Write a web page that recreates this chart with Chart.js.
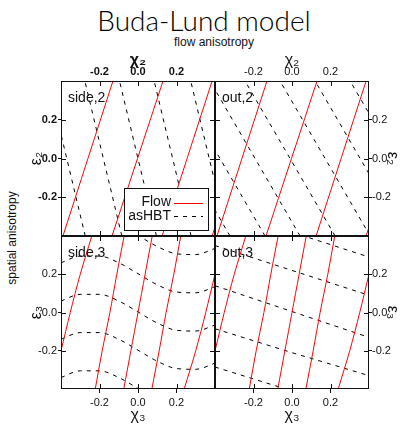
<!DOCTYPE html>
<html>
<head>
<meta charset="utf-8">
<script src="https://cdn.jsdelivr.net/npm/chart.js@4.4.0/dist/chart.umd.min.js"></script>
<style>
  body { margin: 0; background: #fff; }
  #fig { position: relative; width: 402px; height: 425px; overflow: hidden;
         font-family: "Liberation Sans", Arial, sans-serif; color: #111; }
  #fig canvas { position: absolute; left: 0; top: 0; }
  .txt { position: absolute; white-space: nowrap; line-height: 1; }
  #title { left: 204px; top: 3px; transform: translateX(-50%); font: 300 28px Lato, "Liberation Sans", sans-serif; color: #000; }
  #sub { left: 214px; top: 36px; transform: translateX(-50%); font-size: 12px; }
  #side { left: 12px; top: 238px; transform: translate(-50%, -50%) rotate(-90deg); font-size: 12px; }
</style>
</head>
<body>
<div id="fig">
  <div class="txt" id="title">Buda-Lund model</div>
  <div class="txt" id="sub">flow anisotropy</div>
  <div class="txt" id="side">spatial anisotropy</div>
  <canvas id="sideTwo" width="402" height="425"></canvas>
  <canvas id="outTwo" width="402" height="425"></canvas>
  <canvas id="sideThree" width="402" height="425"></canvas>
  <canvas id="outThree" width="402" height="425"></canvas>
</div>
<script>
const chiTicks = [-0.2, 0, 0.2];
const epsTicks = [-0.2, 0, 0.2];

// second harmonic: straight iso-lines, chi2 read at eps2 = -0.4 and +0.4
const eps2Ends = [-0.4, 0.4];
const flow2Chi = [
  [-0.39, -0.13],
  [-0.135, 0.13],
  [0.125, 0.385],
  [0.385, 0.645],
];
const side2Chi = [
  [-0.274, -0.466],
  [-0.084, -0.276],
  [0.096, -0.096],
  [0.276, 0.084],
  [0.466, 0.274],
];
const out2Chi = [
  [-0.322, -0.79],
  [-0.14, -0.608],
  [0.042, -0.426],
  [0.224, -0.244],
  [0.406, -0.062],
  [0.588, 0.12],
  [0.77, 0.302],
];

// third harmonic: flow lines (chi3 at each eps3 row)
const eps3Rows = [-0.4, -0.2, 0, 0.2, 0.4];
const flow3Chi = [
  [-0.452, -0.4, -0.352, -0.3, -0.24],
  [-0.222, -0.186, -0.146, -0.11, -0.072],
  [-0.074, -0.037, 0, 0.037, 0.074],
  [0.072, 0.11, 0.146, 0.186, 0.222],
  [0.24, 0.3, 0.352, 0.4, 0.452],
];
// asHBT side: wavy curves, eps3 at each chi3 column
const chi3Cols = [-0.4, -0.3, -0.2, -0.1, 0, 0.1, 0.2, 0.3, 0.4];
const side3Eps = [
  [0.46, 0.495, 0.495, 0.46, 0.403, 0.345, 0.307, 0.303, 0.335],
  [0.26, 0.295, 0.295, 0.26, 0.203, 0.145, 0.107, 0.103, 0.135],
  [0.06, 0.095, 0.095, 0.06, 0.003, -0.055, -0.093, -0.097, -0.065],
  [-0.14, -0.105, -0.105, -0.14, -0.197, -0.255, -0.293, -0.297, -0.265],
  [-0.34, -0.305, -0.305, -0.34, -0.397, -0.455, -0.493, -0.497, -0.465],
];
// asHBT out: gently falling lines
const chi3Ends = [-0.4, 0, 0.4];
const out3Eps = [
  [0.55, 0.42, 0.29],
  [0.35, 0.22, 0.09],
  [0.14, 0.005, -0.13],
  [-0.085, -0.21, -0.33],
  [-0.285, -0.41, -0.54],
];

const W = 402, H = 425;
const INK = '#111';
const FONT = '"Liberation Sans", Arial, sans-serif';
Chart.defaults.font.family = FONT;

const flowStyle = { borderColor: '#ff0000', borderWidth: 1, pointRadius: 0, fill: false, clip: 0, tension: 0.3 };
const hbtStyle = { borderColor: '#000', borderWidth: 1, borderDash: [4, 5], pointRadius: 0, fill: false, clip: 0 };

const alongEps = (rows, eps, style, label) =>
  rows.map((row, k) => ({ ...style, label: k === 0 ? label : undefined, data: row.map((x, i) => ({ x, y: eps[i] })) }));
const alongChi = (rows, chi, style, label) =>
  rows.map((row, k) => ({ ...style, label: k === 0 ? label : undefined, data: row.map((y, i) => ({ x: chi[i], y })) }));

const fmt = v => (Math.abs(v) < 1e-9 ? '0.0' : v.toFixed(1));

const drawLegend = (ctx, a, datasets) => {
  const bx = a.right - 91, by = a.bottom - 48, bw = 85, bh = 43;
  ctx.fillStyle = '#fff';
  ctx.fillRect(bx, by, bw, bh);
  ctx.strokeStyle = INK;
  ctx.lineWidth = 1;
  ctx.strokeRect(bx + 0.5, by + 0.5, bw - 1, bh - 1);
  datasets.filter(d => d.label).forEach((d, i) => {
    const cy = by + 14.5 + i * 13.5;
    ctx.fillStyle = INK;
    ctx.font = `14px ${FONT}`;
    ctx.textAlign = 'right';
    ctx.textBaseline = 'middle';
    ctx.fillText(d.label, bx + 47, cy);
    ctx.strokeStyle = d.borderColor;
    ctx.setLineDash(d.borderDash || []);
    ctx.beginPath();
    ctx.moveTo(bx + 50, Math.round(cy) + 0.5);
    ctx.lineTo(bx + 79, Math.round(cy) + 0.5);
    ctx.stroke();
    ctx.setLineDash([]);
  });
};

// frame, inner tick marks, panel name and optional legend
const panelDecor = {
  id: 'panelDecor',
  afterDatasetsDraw(chart, args, opts) {
    const { ctx, chartArea: a, scales: { x, y } } = chart;
    ctx.save();
    ctx.strokeStyle = INK;
    ctx.lineWidth = 1;
    ctx.strokeRect(a.left + 0.5, a.top + 0.5, a.width - 1, a.height - 1);
    ctx.beginPath();
    chiTicks.forEach(v => {
      const px = Math.round(x.getPixelForValue(v)) + 0.5;
      ctx.moveTo(px, a.top); ctx.lineTo(px, a.top + 5);
      ctx.moveTo(px, a.bottom); ctx.lineTo(px, a.bottom - 5);
    });
    epsTicks.forEach(v => {
      const py = Math.round(y.getPixelForValue(v)) + 0.5;
      ctx.moveTo(a.left, py); ctx.lineTo(a.left + 5, py);
      ctx.moveTo(a.right, py); ctx.lineTo(a.right - 5, py);
    });
    ctx.stroke();
    ctx.fillStyle = INK;
    ctx.font = `14px ${FONT}`;
    ctx.textAlign = 'left';
    ctx.textBaseline = 'alphabetic';
    ctx.fillText(opts.label, a.left + 7, a.top + 21);
    if (opts.legend) drawLegend(ctx, a, chart.data.datasets);
    ctx.restore();
  },
};

const makePanel = ({ id, area, xSide, ySide, bold = false, xTitle, yTitle, label, legend = false, datasets }) => {
  const xBox = xSide === 'top' ? 33 : H - area.bottom;
  const yBox = ySide === 'left' ? 34 : W - area.right;
  const padding = {
    left: ySide === 'left' ? area.left - yBox : area.left,
    right: ySide === 'right' ? W - area.right - yBox : W - area.right,
    top: xSide === 'top' ? area.top - xBox : area.top,
    bottom: xSide === 'bottom' ? H - area.bottom - xBox : H - area.bottom,
  };
  const tickFont = { family: FONT, size: 11, weight: bold ? 'bold' : 'normal' };

  new Chart(id, {
    type: 'line',
    data: { datasets },
    plugins: [panelDecor],
    options: {
      responsive: false,
      animation: false,
      events: [],
      layout: { padding, autoPadding: false },
      plugins: {
        legend: { display: false },
        tooltip: { enabled: false },
        panelDecor: { label, legend },
      },
      scales: {
        x: {
          type: 'linear',
          position: xSide,
          min: -0.4,
          max: 0.4,
          afterBuildTicks: s => { s.ticks = chiTicks.map(value => ({ value })); },
          afterFit: s => { s.height = xBox; },
          ticks: { callback: fmt, font: tickFont, color: INK, padding: xSide === 'top' ? 2 : 3, maxRotation: 0, autoSkip: false },
          grid: { drawOnChartArea: false, drawTicks: xSide === 'bottom', tickLength: 4, color: INK },
          border: { display: false },
          title: {
            display: true,
            text: xTitle,
            color: INK,
            font: { family: FONT, size: 16, weight: bold ? 'bold' : 'normal' },
            padding: xSide === 'top' ? { top: 3, bottom: 0 } : 0,
          },
        },
        y: {
          type: 'linear',
          position: ySide,
          min: -0.4,
          max: 0.4,
          afterBuildTicks: s => { s.ticks = epsTicks.map(value => ({ value })); },
          afterFit: s => { s.width = yBox; },
          ticks: { callback: fmt, font: tickFont, color: INK, padding: ySide === 'left' ? 1 : 0, autoSkip: false },
          grid: { drawOnChartArea: false, drawTicks: true, tickLength: 3, color: INK },
          border: { display: false },
          title: { display: true, text: yTitle, color: INK, font: { family: FONT, size: 16 }, padding: 0 },
        },
      },
    },
  });
};

makePanel({
  id: 'sideTwo',
  area: { left: 61, right: 215, top: 81, bottom: 236 },
  xSide: 'top', ySide: 'left', bold: true,
  xTitle: 'χ₂', yTitle: 'ε₂', label: 'side,2', legend: true,
  datasets: [
    ...alongEps(flow2Chi, eps2Ends, flowStyle, 'Flow'),
    ...alongEps(side2Chi, eps2Ends, hbtStyle, 'asHBT'),
  ],
});

makePanel({
  id: 'outTwo',
  area: { left: 215, right: 369, top: 81, bottom: 236 },
  xSide: 'top', ySide: 'right',
  xTitle: 'χ₂', yTitle: 'ε₂', label: 'out,2',
  datasets: [
    ...alongEps(flow2Chi, eps2Ends, flowStyle),
    ...alongEps(out2Chi, eps2Ends, hbtStyle),
  ],
});

makePanel({
  id: 'sideThree',
  area: { left: 61, right: 215, top: 236, bottom: 389 },
  xSide: 'bottom', ySide: 'left',
  xTitle: 'χ₃', yTitle: 'ε₃', label: 'side,3',
  datasets: [
    ...alongEps(flow3Chi, eps3Rows, flowStyle),
    ...alongChi(side3Eps, chi3Cols, { ...hbtStyle, cubicInterpolationMode: 'monotone' }),
  ],
});

makePanel({
  id: 'outThree',
  area: { left: 215, right: 369, top: 236, bottom: 389 },
  xSide: 'bottom', ySide: 'right',
  xTitle: 'χ₃', yTitle: 'ε₃', label: 'out,3',
  datasets: [
    ...alongEps(flow3Chi, eps3Rows, flowStyle),
    ...alongChi(out3Eps, chi3Ends, hbtStyle),
  ],
});
</script>
</body>
</html>
